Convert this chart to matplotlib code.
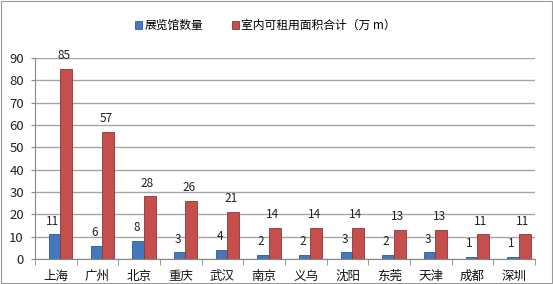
import matplotlib
matplotlib.use("Agg")
import matplotlib.pyplot as plt
from matplotlib.patches import Rectangle
import numpy as np

plt.rcParams['font.family'] = ['Noto Sans CJK SC', 'DejaVu Sans']

cities = ["上海", "广州", "北京", "重庆", "武汉", "南京", "义乌", "沈阳", "东莞", "天津", "成都", "深圳"]
venues = [11, 6, 8, 3, 4, 2, 2, 3, 2, 3, 1, 1]
area = [85, 57, 28, 26, 21, 14, 14, 14, 13, 13, 11, 11]
series_names = ["展览馆数量", "室内可租用面积合计（万 m）"]
yticks = [0, 10, 20, 30, 40, 50, 60, 70, 80, 90]

blue = "#4577BE"
red = "#C54F4D"

fig = plt.figure(figsize=(5.53, 2.84), dpi=100)
ax = fig.add_axes([35/553, 1-259/284, 500/553, (259-58)/284])

x = np.arange(len(cities))
b1 = ax.bar(x - 0.03, venues, width=0.27, color=blue, edgecolor="#2D5A93", linewidth=0.6,
            label=series_names[0], zorder=3)
b2 = ax.bar(x + 0.25, area, width=0.29, color=red, edgecolor="#8E3533", linewidth=0.6,
            label=series_names[1], zorder=3)

for xi, v in zip(x, venues):
    ax.text(xi - 0.07, v + 3, str(v), ha="center", va="bottom", fontsize=8.5, color="#222222")
for xi, v in zip(x, area):
    ax.text(xi + 0.2, v + 3, str(v), ha="center", va="bottom", fontsize=8.5, color="#222222")

ax.set_xlim(-0.5, len(cities) - 0.5)
ax.set_ylim(0, 90)
ax.set_yticks(yticks)
ax.set_yticklabels([str(t) for t in yticks], fontsize=9.5, color="#222222")
ax.set_xticks(x)
ax.set_xticklabels(cities, fontsize=9, color="#111111")
ax.set_xticks(np.arange(len(cities) + 1) - 0.5, minor=True)
ax.tick_params(axis="x", which="major", length=0, pad=8)
ax.tick_params(axis="x", which="minor", length=4, color="#888888")
ax.tick_params(axis="y", length=3, color="#888888", pad=5)
ax.grid(axis="y", color="#A6A6A6", linewidth=1.0, zorder=0)
for s in ["top", "right"]:
    ax.spines[s].set_visible(False)
ax.spines["left"].set_color("#888888")
ax.spines["bottom"].set_color("#888888")

leg = fig.legend(handles=[b1, b2], loc="upper center", bbox_to_anchor=(0.48, 0.97), ncol=2,
                 frameon=False, fontsize=8.5, handlelength=0.6, handleheight=0.6,
                 handletextpad=0.2, columnspacing=2.4)

fig.patches.append(Rectangle((0.001, 0.002), 0.997, 0.995, transform=fig.transFigure,
                             fill=False, edgecolor="#9A9A9A", linewidth=0.8))

fig.savefig("out.png", dpi=100)
